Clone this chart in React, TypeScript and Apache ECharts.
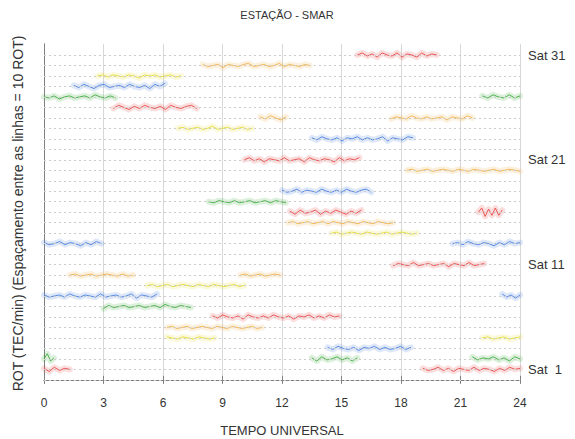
import React, { useEffect, useRef } from "react";
import * as echarts from "echarts";

const TITLE = "ESTAÇÃO - SMAR";
const X_NAME = "TEMPO UNIVERSAL";
const Y_NAME = "ROT (TEC/min) (Espaçamento entre as linhas = 10 ROT)";
const X_TICKS = [0, 3, 6, 9, 12, 15, 18, 21, 24];
const SAT_LABELS = [1, 11, 21, 31];
const SAT_LINES = Array.from({ length: 32 }, (_, i) => i);
const PALETTE = ["#e84848", "#3fac3f", "#4a80e0", "#e4dc3c", "#f0b24e"];

// ROT values (TEC/min); line spacing = 10 ROT
const s31a = [0, 2, -1, 1, -2, 2, 0, -1, 2, -2, 1, 0, -2, 2, -1, 1, 0];
const s30a = [1, -1, 0, 1, -2, 1, 0, -1, 1, 2, -1, 0, 1, -1, 0, 2, -1, 1, 0, -1, 1, 0];
const s29a = [0, 1, -1, 1, 0, -1, 1, 0, -2, 1, 0, 1, -1, 0, 1, -1, 0];
const s28a = [1, -1, 2, 0, -2, 1, 2, -1, 0, 1, -1, 2, 0, -1, 1, -2, 2, 0, 3];
const s27a = [0, -1, 1, -2, 0, 1, -1, 0, 1, -1, 2, 0, -1, 1, -1];
const s27b = [1, -1, 2, 0, -1, 2, -1, 1];
const s26a = [-1, 2, 0, -2, 1, -1, 2, 0, -1, 1, -2, 2, 0, -1, 1, 2, -1];
const s25a = [1, -1, 2, 0, -2, 1];
const s25b = [-1, 1, 0, -1, 2, 0, -1, 1, -1, 0, 1, -2, 1, 0, -1, 2, 0];
const s24a = [0, 1, -1, 0, 1, -1, 0, 2, -1, 0, 1, -1, 0, 1, -1, 0];
const s23a = [1, -1, 2, 0, -1, 1, -2, 1, 0, 2, -1, 1, -1, 0, 2, -2, 1, 0, -1, 2, 1];
const s21a = [0, 2, -1, 1, -2, 1, 0, -1, 2, -1, 0, 1, -2, 2, 0, -1, 1, 0, -2, 2, -1, 1, 0, 2];
const s20a = [0, 1, -1, 0, 1, -1, 0, 1, 0, -1, 1, 0, -1, 1, 0, -1, 0, 1, -1, 0, 1, 0, -1];
const s18a = [1, -1, 0, 2, -1, 1, 0, -1, 2, 0, -1, 1, -1, 2, 0, -1, 1, 2, -1];
const s17a = [0, -1, 1, 0, -1, 1, -1, 0, 1, -1, 0, 1, -1, 1, 0, -1];
const s16a = [1, -2, 2, -1, 0, 2, -2, 1, -1, 2, 0, -2, 1, -1, 2];
const s16b = [0, 4, -4, 3, -3, 4, -3, 2];
const s15a = [0, 1, -1, 0, 1, -1, 0, 1, -1, 1, 0, -1, 1, 0, -1, 1, 0, -1, 1, 0, -1, 0];
const s14a = [0, 1, -1, 0, 1, 0, -1, 1, 0, -1, 0, 1, -1, 0, 1, 0, -1, 0];
const s13a = [1, -1, 0, 2, -1, 1, 0, -2, 1, -1, 2, 0];
const s13b = [0, 1, -1, 2, 0, -1, 1, 0, -2, 1, -1, 2, 0, 1];
const s11a = [-1, 1, 0, -1, 2, -1, 0, 1, -1, 0, 1, -2, 1, 0, -1, 2, -1, 0, 1];
const s10a = [0, 1, -1, 0, 1, -1, 0, 1, 0, -1, 1, -1, 0];
const s10b = [0, 1, -1, 0, 1, -1, 0, 1, 0];
const s9a = [0, 1, -1, 0, 1, -1, 0, 1, 0, -1, 1, 0, -1, 1, 0, -1, 0, 1, -1, 0];
const s8a = [1, -1, 0, 1, -1, 2, 0, -1, 1, 0, -1, 2, -1, 0, 1, -1, 0, 2, -2, 1, 0, -1, 2];
const s8b = [2, -1, 1, -2, 1];
const s7a = [-2, 1, -1, 0, 1, -1, 0, 1, -1, 0, 1, -1, 2, 0, -1, 1, 0, -1];
const s6a = [1, -1, 2, 0, -1, 1, -2, 2, 0, -1, 1, -1, 2, 0, -1, 1, -2, 1, 0, 2, -1, 1, -1, 2, 0, 1];
const s5a = [0, 1, -1, 0, 1, -1, 0, 1, 0, -1, 1, 0, -1, 1, 0, -1, 0, 1, -1, 0];
const s4a = [0, 1, -1, 0, 1, -1, 0, 1];
const s4b = [1, 0, -1, 1, 0, -1, 1, 0, -1, 0];
const s3a = [1, -1, 2, 0, -1, 1, -2, 1, 0, 2, -1, 1, -1, 0, 2, -1, 1];
const s2a = [1, -2, 2, -1, 0, 2, -1, 1, -2, 1];
const s2b = [2, -1, 1, 0, 2, -1, 1, -2, 2, 0];
const s2c = [0, 5, -2, 1];
const s1a = [1, -1, 0, 2, -1, 1, -2, 1, 0, -1, 2, -1, 1, 0, -2, 1, -1, 2, 0, 1];
const s1b = [1, -2, 2, -1, 1, 0];

// [satellite, start UT, end UT, values]
const TRACES: [number, number, number, number[]][] = [
  [31, 15.8, 19.8, s31a],
  [30, 8.0, 13.4, s30a],
  [29, 2.7, 6.9, s29a],
  [28, 1.5, 6.1, s28a],
  [27, 0, 3.6, s27a],
  [27, 22.1, 24, s27b],
  [26, 3.5, 7.7, s26a],
  [25, 10.9, 12.2, s25a],
  [25, 17.5, 21.6, s25b],
  [24, 6.75, 10.5, s24a],
  [23, 13.5, 18.6, s23a],
  [21, 10.1, 15.9, s21a],
  [20, 18.3, 24, s20a],
  [18, 12.0, 16.5, s18a],
  [17, 8.3, 12.2, s17a],
  [16, 12.4, 16.0, s16a],
  [16, 21.9, 23.1, s16b],
  [15, 12.3, 17.6, s15a],
  [14, 14.5, 18.8, s14a],
  [13, 0, 2.9, s13a],
  [13, 20.6, 24, s13b],
  [11, 17.6, 22.2, s11a],
  [10, 1.3, 4.5, s10a],
  [10, 9.9, 11.9, s10b],
  [9, 5.2, 10.1, s9a],
  [8, 0, 5.7, s8a],
  [8, 23.1, 24, s8b],
  [7, 3.0, 7.4, s7a],
  [6, 8.5, 14.9, s6a],
  [5, 6.2, 11.0, s5a],
  [4, 22.1, 24, s4a],
  [4, 6.2, 8.6, s4b],
  [3, 14.3, 18.5, s3a],
  [2, 13.5, 15.8, s2a],
  [2, 21.6, 24, s2b],
  [2, 0, 0.5, s2c],
  [1, 19.1, 24, s1a],
  [1, 0, 1.3, s1b],
];

const FONT = "'Liberation Sans', Arial, sans-serif";

export default function App() {
  const ref = useRef<HTMLDivElement>(null);
  useEffect(() => {
    if (!ref.current) return;
    const chart = echarts.init(ref.current, undefined, { renderer: "svg" });
    const series: any[] = [];
    TRACES.forEach(([sat, t0, t1, vals]) => {
      const data = vals.map((v, i) => [t0 + (i * (t1 - t0)) / (vals.length - 1), sat + v / 10]);
      const color = PALETTE[(sat - 1) % 5];
      series.push({
        type: "line",
        showSymbol: false,
        silent: true,
        lineStyle: { width: 6, color, opacity: 0.18, cap: "round", join: "round" },
        data,
      });
      series.push({
        type: "line",
        showSymbol: false,
        silent: true,
        lineStyle: { width: 1, color, opacity: 0.9 },
        data,
      });
    });
    series.push({
      type: "line",
      data: [],
      silent: true,
      markLine: {
        silent: true,
        symbol: "none",
        label: { show: false },
        lineStyle: { type: [2, 3], color: "#cccccc", width: 1 },
        data: SAT_LINES.map((v) => ({ yAxis: v })),
      },
    });
    chart.setOption({
      animation: false,
      textStyle: { fontFamily: FONT },
      title: {
        text: TITLE,
        left: 282,
        textAlign: "center",
        top: 4,
        textStyle: { fontSize: 11, fontWeight: "normal", color: "#333", fontFamily: FONT },
      },
      grid: {
        left: 44,
        right: 55,
        top: 44,
        bottom: 56,
        containLabel: false,
        outerBoundsMode: "none",
      },
      xAxis: [
        {
          type: "value",
          min: 0,
          max: 24,
          interval: 3,
          position: "bottom",
          name: X_NAME,
          nameLocation: "middle",
          nameGap: 41,
          nameTextStyle: { fontSize: 13, color: "#333", fontFamily: FONT },
          axisLine: { show: true, lineStyle: { color: "#808080" } },
          axisTick: { show: true, inside: true, length: 4, lineStyle: { color: "#808080" } },
          axisLabel: {
            fontSize: 12,
            color: "#333",
            margin: 14,
            customValues: X_TICKS,
            formatter: (v: number) => String(v),
          },
          splitLine: { show: true, lineStyle: { type: "solid", color: "#d8d8d8", width: 1 } },
        },
        {
          type: "value",
          min: 0,
          max: 24,
          interval: 3,
          position: "top",
          axisLine: { show: true, lineStyle: { color: "#808080" } },
          axisTick: { show: true, inside: true, length: 4, lineStyle: { color: "#808080" } },
          axisLabel: { show: false },
          splitLine: { show: false },
        },
      ],
      yAxis: [
        {
          type: "value",
          min: -0.3,
          max: 32.05,
          position: "left",
          name: Y_NAME,
          nameLocation: "middle",
          nameRotate: 90,
          nameGap: 19,
          nameTextStyle: { fontSize: 14, color: "#333", fontFamily: FONT },
          axisLine: { show: true, lineStyle: { color: "#808080" } },
          axisTick: { show: false },
          axisLabel: { show: false },
          splitLine: { show: false },
        },
        {
          type: "value",
          min: -0.3,
          max: 32.05,
          position: "right",
          axisLine: { show: true, lineStyle: { color: "#808080" } },
          axisTick: { show: false },
          axisLabel: {
            show: true,
            fontSize: 13,
            color: "#333",
            margin: 8,
            customValues: SAT_LABELS,
            formatter: (v: number) => (v < 10 ? "Sat  " + v : "Sat " + v),
          },
          splitLine: { show: false },
        },
      ],
      series,
    });
    return () => chart.dispose();
  }, []);
  return (
    <div
      ref={ref}
      style={{ position: "fixed", left: 0, top: 0, width: 575, height: 439, background: "#fff" }}
    />
  );
}
